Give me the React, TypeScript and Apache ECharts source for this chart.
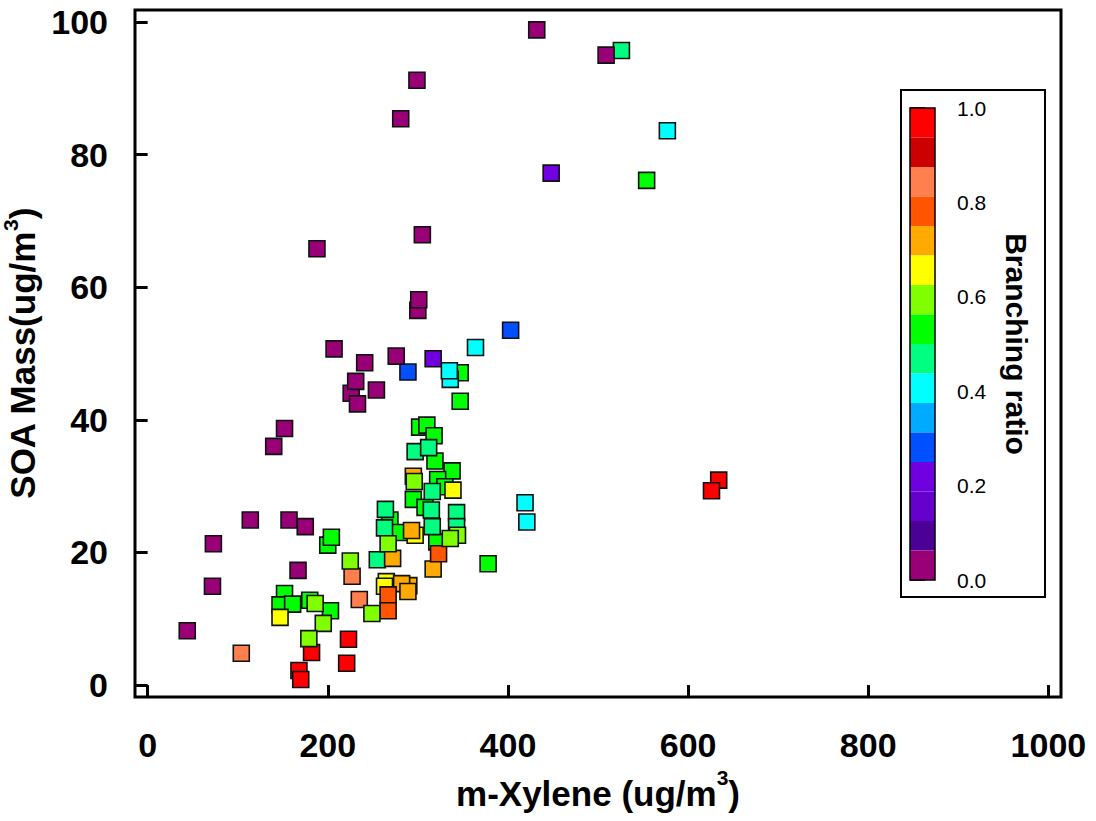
import React, { useEffect, useRef } from 'react';
import * as echarts from 'echarts';

const xTicks = [0, 200, 400, 600, 800, 1000];
const yTicks = [0, 20, 40, 60, 80, 100];
const bandColors = [
  '#990077', '#4B0096', '#6600CC', '#7000E0', '#0050FF', '#00AAFF', '#00FFFF', '#00FF80',
  '#00FF00', '#80FF00', '#FFFF00', '#FFAA00', '#FF5500', '#FF7F4F', '#CC0000', '#FF0000',
];

// m-Xylene (ug/m3)
const mXylene = [
  634, 626, 223, 182, 221, 168, 170,
  554, 347, 347, 378, 302, 310, 318, 319, 338, 322, 330, 295, 308, 269, 280, 321, 200, 204, 152, 147, 161, 180, 203,
  526, 297, 312, 316, 264, 343, 315, 263, 316, 343, 255,
  339, 297, 265, 263, 147,
  295, 293, 272, 317, 290, 282, 289,
  323, 267, 267,
  227, 235, 104,
  296, 344, 336, 267, 225, 249, 186, 195, 179,
  577, 364, 336, 335, 419, 421,
  403, 289,
  317, 448,
  432, 509, 299, 281, 305, 188, 300, 301, 207, 276, 241, 226, 231, 254, 233, 152, 140, 114, 157, 175, 73, 167, 72, 44,
];
// SOA Mass (ug/m3)
const soaMass = [
  30.9, 29.3, 6.9, 4.9, 3.3, 2.2, 0.85,
  76.1, 47.1, 42.8, 18.3, 38.9, 39.2, 37.6, 33.8, 32.3, 31.0, 29.9, 28.0, 26.8, 24.9, 23.0, 21.6, 21.1, 22.3, 13.8, 12.1, 12.2, 12.8, 11.2,
  95.7, 35.2, 35.8, 29.2, 26.5, 26.0, 26.4, 23.7, 23.9, 23.9, 18.9,
  29.4, 22.6, 15.6, 14.9, 10.2,
  31.5, 23.3, 19.1, 17.5, 15.0, 15.3, 14.1,
  19.8, 13.6, 11.2,
  16.4, 12.9, 4.8,
  30.7, 22.6, 22.1, 21.3, 18.7, 10.8, 12.3, 9.3, 7.0,
  83.6, 50.9, 46.1, 47.4, 27.5, 24.6,
  53.5, 47.2,
  49.2, 77.2,
  98.8, 95.0, 91.2, 85.4, 67.9, 65.8, 56.5, 58.1, 50.7, 49.6, 48.6, 44.0, 45.8, 44.5, 42.4, 38.7, 36.0, 24.9, 24.9, 23.9, 21.3, 17.3, 14.9, 8.2,
];
// Branching ratio
const branchingRatio = [
  0.97, 0.97, 0.97, 0.97, 0.97, 0.97, 0.97,
  0.53, 0.53, 0.53, 0.53, 0.53, 0.53, 0.53, 0.53, 0.53, 0.53, 0.53, 0.53, 0.53, 0.53, 0.53, 0.53, 0.53, 0.53, 0.53, 0.53, 0.53, 0.53, 0.53,
  0.47, 0.47, 0.47, 0.47, 0.47, 0.47, 0.47, 0.47, 0.47, 0.47, 0.47,
  0.66, 0.66, 0.66, 0.66, 0.66,
  0.72, 0.72, 0.72, 0.72, 0.72, 0.72, 0.72,
  0.78, 0.78, 0.78,
  0.84, 0.84, 0.84,
  0.59, 0.59, 0.59, 0.59, 0.59, 0.59, 0.59, 0.59, 0.59,
  0.41, 0.41, 0.41, 0.41, 0.41, 0.41,
  0.28, 0.28,
  0.22, 0.22,
  0.03, 0.03, 0.03, 0.03, 0.03, 0.03, 0.03, 0.03, 0.03, 0.03, 0.03, 0.03, 0.03, 0.03, 0.03, 0.03, 0.03, 0.03, 0.03, 0.03, 0.03, 0.03, 0.03, 0.03,
];

const FONT = '"Liberation Sans", Arial, Helvetica, sans-serif';

export default function App() {
  const ref = useRef<HTMLDivElement>(null);
  useEffect(() => {
    document.body.style.margin = '0';
    const chart = echarts.init(ref.current!, null, { renderer: 'svg' });
    const data = mXylene.map((x, i) => [x, soaMass[i], branchingRatio[i]]);
    const n = bandColors.length;
    const pieces = bandColors.map((c, i) => ({ min: i / n, max: (i + 1) / n, color: c })).reverse();
    const titleRich = (size: number, lh: number) => ({
      a: { fontSize: size, fontWeight: 'bold', fontFamily: FONT, color: '#000', lineHeight: lh, verticalAlign: 'bottom' },
      s: { fontSize: Math.round(size * 0.6), fontWeight: 'bold', fontFamily: FONT, color: '#000', lineHeight: 20, verticalAlign: 'top' },
    });
    chart.setOption({
      animation: false,
      backgroundColor: '#fff',
      grid: [
        { left: 135, top: 10, right: 35, bottom: 124, show: true, borderColor: '#000', borderWidth: 3, z: 3, outerBoundsMode: 'none', containLabel: false },
        { left: 910, top: 108, width: 25, height: 472, show: true, borderColor: '#000', borderWidth: 1.5, z: 5, outerBoundsMode: 'none', containLabel: false },
      ],
      xAxis: [
        {
          type: 'value', gridIndex: 0, min: -14, max: 1014,
          axisLine: { show: false },
          axisTick: { show: true, length: 13, customValues: xTicks, lineStyle: { color: '#000', width: 3 } },
          axisLabel: { customValues: xTicks, formatter: (v: number) => String(v), fontSize: 34, fontWeight: 'bold', fontFamily: FONT, color: '#000', margin: 31 },
          splitLine: { show: false },
          name: '{a|m-Xylene (ug/m}{s|3}{a|)}',
          nameLocation: 'middle', nameGap: 70,
          nameTextStyle: { rich: titleRich(35, 44) },
        },
        { type: 'value', gridIndex: 1, min: 0, max: 1, show: false },
      ],
      yAxis: [
        {
          type: 'value', gridIndex: 0, min: -1.8, max: 101.8,
          axisLine: { show: false },
          axisTick: { show: true, length: 13, customValues: yTicks, lineStyle: { color: '#000', width: 3 } },
          axisLabel: { customValues: yTicks, formatter: (v: number) => String(v), fontSize: 34, fontWeight: 'bold', fontFamily: FONT, color: '#000', margin: 27 },
          splitLine: { show: false },
          name: '{a|SOA Mass(ug/m}{s|3}{a|)}',
          nameLocation: 'middle', nameGap: 93, nameRotate: 90,
          nameTextStyle: { rich: titleRich(35, 40) },
        },
        {
          type: 'value', gridIndex: 1, min: 0, max: 1, interval: 0.2, position: 'right',
          axisLine: { show: false },
          axisTick: { show: true, length: 15, lineStyle: { color: '#000', width: 1.5 } },
          axisLabel: { fontSize: 21, fontFamily: FONT, color: '#000', margin: 22, formatter: (v: number) => v.toFixed(1) },
          splitLine: { show: false },
          name: 'Branching ratio', nameLocation: 'middle', nameRotate: -90, nameGap: 66,
          nameTextStyle: { fontSize: 30, fontWeight: 'bold', fontFamily: FONT, color: '#000' },
        },
      ],
      visualMap: {
        type: 'piecewise', seriesIndex: 0, dimension: 2, orient: 'vertical',
        left: 910, top: 108, padding: 0, itemWidth: 25, itemHeight: 29.5, itemGap: 0,
        itemSymbol: 'rect', showLabel: false, pieces, z: 1, hoverLink: false, selectedMode: false,
      },
      graphic: [
        { type: 'rect', shape: { x: 901, y: 90, width: 144, height: 507 }, style: { fill: 'none', stroke: '#000', lineWidth: 2 }, z: 10 },
      ],
      series: [
        {
          type: 'scatter', xAxisIndex: 0, yAxisIndex: 0, data,
          symbol: 'rect', symbolSize: 16,
          itemStyle: { borderColor: '#111', borderWidth: 1.6, opacity: 1 },
        },
      ],
    });
    return () => chart.dispose();
  }, []);
  return <div ref={ref} style={{ width: 1096, height: 821 }} />;
}
